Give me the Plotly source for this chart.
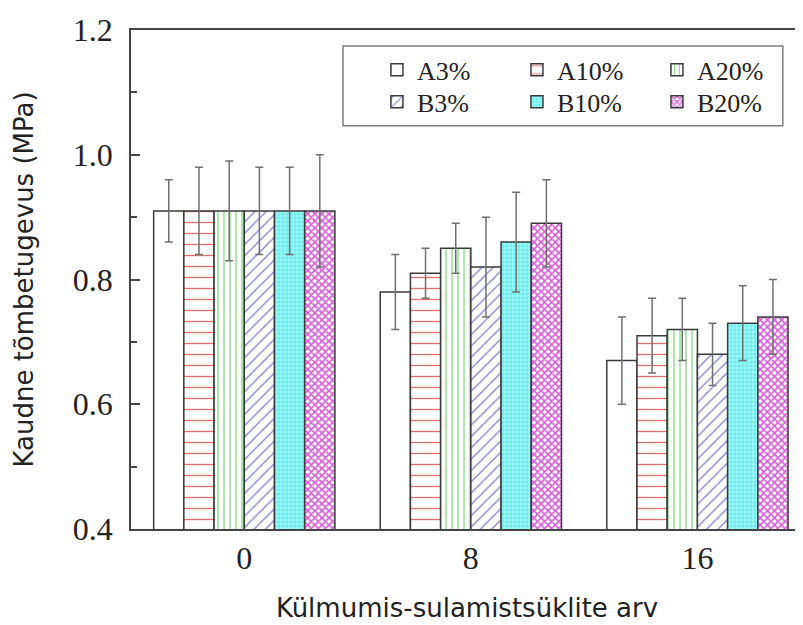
import plotly.graph_objects as go

cycles = ["0", "8", "16"]
series = ["A3%", "A10%", "A20%", "B3%", "B10%", "B20%"]
values = {
    "A3%":  [0.91, 0.78, 0.67],
    "A10%": [0.91, 0.81, 0.71],
    "A20%": [0.91, 0.85, 0.72],
    "B3%":  [0.91, 0.82, 0.68],
    "B10%": [0.91, 0.86, 0.73],
    "B20%": [0.91, 0.89, 0.74],
}
errors = {
    "A3%":  [0.05, 0.06, 0.07],
    "A10%": [0.07, 0.04, 0.06],
    "A20%": [0.08, 0.04, 0.05],
    "B3%":  [0.07, 0.08, 0.05],
    "B10%": [0.07, 0.08, 0.06],
    "B20%": [0.09, 0.07, 0.06],
}
y_ticks = [0.4, 0.6, 0.8, 1.0, 1.2]
y_tick_labels = ["0.4", "0.6", "0.8", "1.0", "1.2"]

patterns = {
    "A3%":  dict(shape="", bgcolor="white"),
    "A10%": dict(shape="-", fgcolor="#e07070", bgcolor="white", size=11, solidity=0.12),
    "A20%": dict(shape="|", fgcolor="#86da86", bgcolor="white", size=6, solidity=0.22),
    "B3%":  dict(shape="/", fgcolor="#7e7ecb", bgcolor="white", size=8, solidity=0.16),
    "B10%": dict(shape="+", fgcolor="#c0ffff", bgcolor="#6cecec", size=4, solidity=0.3),
    "B20%": dict(shape="x", fgcolor="#d858d8", bgcolor="white", size=5, solidity=0.55),
}
legend_of = {"A3%": "legend", "A10%": "legend", "A20%": "legend",
             "B3%": "legend2", "B10%": "legend2", "B20%": "legend2"}

fig = go.Figure()
for s in series:
    fig.add_trace(go.Bar(
        name=s, x=cycles, y=values[s], legend=legend_of[s],
        marker=dict(color="white", line=dict(color="#3a3a3a", width=1.5), pattern=patterns[s]),
        error_y=dict(type="data", array=errors[s], visible=True, color="#707070", thickness=1.5, width=4),
    ))

serif = "Liberation Serif"
sans = "DejaVu Sans"
leg_common = dict(
    orientation="h", xanchor="left", yanchor="middle",
    borderwidth=0, bgcolor="rgba(0,0,0,0)",
    font=dict(family=serif, size=26, color="#222"),
    entrywidth=95, traceorder="normal",
)
fig.update_layout(
    template="none",
    width=795, height=617,
    barmode="group", bargap=0.2, bargroupgap=0,
    paper_bgcolor="white", plot_bgcolor="white",
    margin=dict(l=123, r=0, t=22, b=96, autoexpand=False),
    showlegend=True,
    legend=dict(x=0.366, y=0.92, **leg_common),
    legend2=dict(x=0.366, y=0.856, **leg_common),
    shapes=[dict(type="rect", xref="paper", yref="paper",
                 x0=0.3155, x1=0.970, y0=0.808, y1=0.968,
                 line=dict(color="#808080", width=1.5), fillcolor="rgba(0,0,0,0)")],
    xaxis=dict(
        type="category", range=[-0.5, 2.466], automargin=False,
        showline=True, linecolor="#444", linewidth=1.5, mirror=True,
        ticks="", showgrid=False, zeroline=False,
        tickfont=dict(family=serif, size=32, color="#222"),
        ticklabelstandoff=0,
        title=dict(text="Külmumis-sulamistsüklite arv", font=dict(family=sans, size=26, color="#222"), standoff=24),
    ),
    yaxis=dict(
        range=[0.4, 1.2], tickvals=y_ticks, ticktext=y_tick_labels, automargin=False,
        showline=True, linecolor="#444", linewidth=1.5, mirror=False,
        ticks="inside", ticklen=9, tickwidth=1.5, tickcolor="#444",
        minor=dict(dtick=0.1, ticks="inside", ticklen=6, tickwidth=1.5, tickcolor="#444", showgrid=False),
        showgrid=False, zeroline=False,
        tickfont=dict(family=serif, size=32, color="#222"),
        ticklabelstandoff=10,
        title=dict(text="Kaudne tõmbetugevus (MPa)", font=dict(family=sans, size=26, color="#222"), standoff=32),
    ),
)

fig.write_html("out.html")
